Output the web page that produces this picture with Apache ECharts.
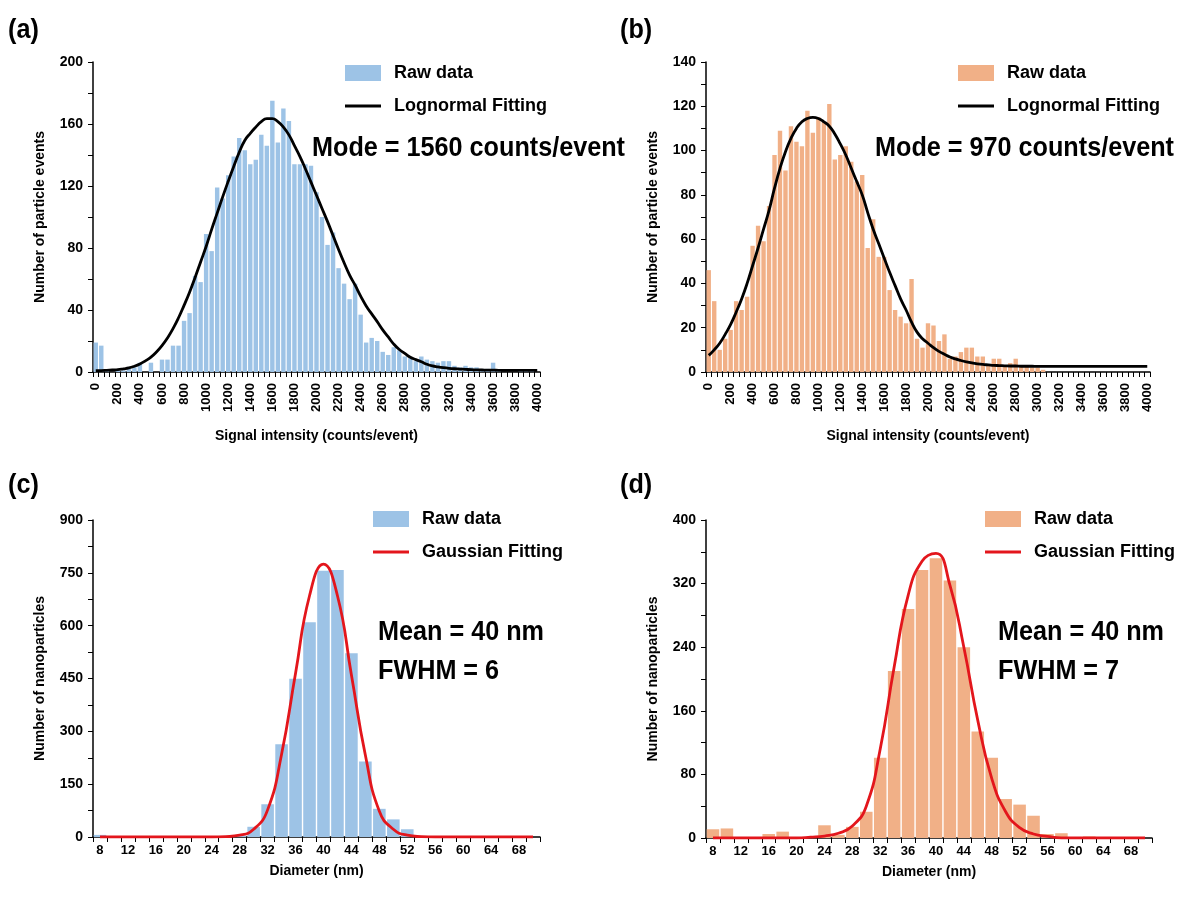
<!DOCTYPE html>
<html>
<head>
<meta charset="utf-8">
<script src="https://cdn.jsdelivr.net/npm/echarts@6/dist/echarts.min.js"></script>
<style>
html,body{margin:0;padding:0;background:#fff;}
#chart{width:1188px;height:898px;}
</style>
</head>
<body>
<div id="chart"></div>
<script>
// ---- categories / tick labels ----
const signalCats = Array.from({length: 81}, (_, i) => String(i * 50));   // 0,50,...,4000
const diamCats = Array.from({length: 32}, (_, i) => String(8 + i * 2));   // 8,10,...,70

// ---- (a) signal intensity histogram, blue ----
const aBars = [19,17,1,0,1,1,2,3,6,0, 6,0,8,8,17,17,33,38,62,58,
  89,78,119,112,127,139,151,143,134,137, 153,146,175,148,170,162,134,134,134,133,
  116,100,82,90,67,57,47,57,37,19, 22,20,13,11,16,14,10,9,7,10,
  8,7,6,7,7,4,3,4,3,3, 2,2,6,1,0,0,0,1,1,1,0];
const aFit = [0.9,0.9,1.1,1.3,1.5,2,2.6,3.7,5.2,7.2, 9.6,12.9,17,22,28,35,43,51.5,61,71,
  81,92,102.5,113,123,132.6,141.8,149.4,154,158, 161.5,163.5,163.5,161.5,158,153,146,139,131,122.5,
  114,105.5,97,88,79,70.5,62.5,56,49,42.6, 37.5,32.5,27.2,22.6,18,14.5,12,9.5,8,6.6,
  5,3.9,3.3,2.8,2.4,2.1,1.9,1.7,1.5,1.4, 1.3,1.2,1.2,1.1,1.1,1.1,1,1,1,1,1];

// ---- (b) signal intensity histogram, orange ----
const bBars = [46,32,10,15,19,32,28,34,57,66, 59,75,98,109,91,111,104,102,118,108,
  115,113,121,96,98,102,95,86,89,56, 69,52,52,37,28,25,22,42,15,11,
  22,21,14,17,6,7,9,11,11,7, 7,3,6,6,3,4,6,3,3,2,
  2,1,0,0,0,0,0,0,0,0, 0,0,0,0,0,0,0,0,0,0,0];
const bFit = [7.5,10,13,17,21.5,27,33,40,48,56, 64.5,73,83,92,99.5,105.5,110,113,114.5,115,
  114.5,113,111,107.5,103,98,92,86,80,72, 64.5,58,51.5,45,39,33,28,22.5,18,15,
  13,11,9.3,8,6.8,5.9,5.2,4.6,4.1,3.7, 3.4,3.2,3,2.9,2.8,2.7,2.7,2.6,2.6,2.6,
  2.5,2.5,2.5,2.5,2.5,2.5,2.5,2.5,2.5,2.5, 2.5,2.5,2.5,2.5,2.5,2.5,2.5,2.5,2.5,2.5,2.5];

// ---- (c) diameter histogram, blue ----
const cBars = [6,0,0,0,0,0,0,0,0,0, 4,29,93,263,449,610,756,758,522,214, 80,50,22,3,0,0,0,0,0,0,0,0];
const cFit  = [0,0,0,0,0,0,0,0,0,1, 5,22,77,235,465,685,775,685,460,232, 73,22,5,1,0,0,0,0,0,0,0,0];

// ---- (d) diameter histogram, orange ----
const dBars = [11,12,0,0,5,8,0,0,16,4, 14,33,101,210,288,337,352,324,240,134, 101,49,42,28,5,6,0,2,0,0,0,0];
const dFit  = [0,0,0,0,0,0,0,1,2.5,6, 15,40,112,215,305,348,358,318,240,148, 75,33,13,5,2,0,0,0,0,0,0,0];

// ---- texts ----
const panelLabels = ['(a)', '(b)', '(c)', '(d)'];
const notes = ['Mode = 1560 counts/event', 'Mode = 970 counts/event', 'Mean = 40 nm', 'FWHM = 6', 'Mean = 40 nm', 'FWHM = 7'];

const BLUE = '#9DC3E6', ORANGE = '#F1B087', RED = '#E3161C';
const FONT = "'Liberation Sans', Arial, sans-serif";

function xAx(grid, data, rotate, interval, margin, name, nameGap) {
  return {
    type: 'category', gridIndex: grid, data: data, boundaryGap: true,
    axisLine: {show: true, lineStyle: {color: '#000', width: 1.5}},
    axisTick: {show: true, interval: 0, length: 5, lineStyle: {color: '#000', width: 1}},
    axisLabel: {interval: interval, rotate: rotate, color: '#000', fontFamily: FONT, fontWeight: 'bold', fontSize: 13, margin: margin},
    splitLine: {show: false},
    name: name, nameLocation: 'middle', nameGap: nameGap,
    nameTextStyle: {color: '#000', fontFamily: FONT, fontWeight: 'bold', fontSize: 14}
  };
}
function yAx(grid, max, tick, labelStep, name) {
  return {
    type: 'value', gridIndex: grid, min: 0, max: max, interval: tick,
    axisLine: {show: true, lineStyle: {color: '#000', width: 1.5}},
    axisTick: {show: true, length: 5, lineStyle: {color: '#000', width: 1}},
    axisLabel: {color: '#000', fontFamily: FONT, fontWeight: 'bold', fontSize: 14, margin: 10,
      formatter: v => (Math.round(v) % labelStep === 0 ? String(v) : '')},
    splitLine: {show: false},
    name: name, nameLocation: 'middle', nameGap: 46, nameRotate: 90,
    nameTextStyle: {color: '#000', fontFamily: FONT, fontWeight: 'bold', fontSize: 14}
  };
}
function legend(left, top, color, fitName, fitColor) {
  return {
    orient: 'vertical', left: left, top: top, padding: 0, itemWidth: 36, itemHeight: 16, itemGap: 15,
    selectedMode: false,
    textStyle: {color: '#000', fontFamily: FONT, fontWeight: 'bold', fontSize: 18, lineHeight: 18, padding: [0, 0, 0, 8]},
    data: [
      {name: 'Raw data', icon: 'rect', itemStyle: {color: color}},
      {name: fitName, icon: 'path://M0,0H36V3H0Z', itemStyle: {color: fitColor}}
    ]
  };
}
function txt(x, y, s, size) {
  return {type: 'text', x: x, y: y, scaleX: 0.9, z: 100,
    style: {text: s, x: 0, y: 0, fill: '#000', fontFamily: FONT, fontWeight: 'bold', fontSize: size, textVerticalAlign: 'middle', textAlign: 'left'}};
}

const chart = echarts.init(document.getElementById('chart'), null, {renderer: 'canvas'});
chart.setOption({
  backgroundColor: '#fff',
  animation: false,
  grid: [
    {left: 93, top: 62, width: 447, height: 310},
    {left: 706, top: 62, width: 444, height: 310},
    {left: 93, top: 520, width: 447, height: 317},
    {left: 706, top: 520, width: 446, height: 318}
  ],
  xAxis: [
    xAx(0, signalCats, 90, 3, 11, 'Signal intensity (counts/event)', 57),
    xAx(1, signalCats, 90, 3, 11, 'Signal intensity (counts/event)', 57),
    xAx(2, diamCats, 0, 1, 7, 'Diameter (nm)', 27),
    xAx(3, diamCats, 0, 1, 7, 'Diameter (nm)', 27)
  ],
  yAxis: [
    yAx(0, 200, 20, 40, 'Number of particle events'),
    yAx(1, 140, 10, 20, 'Number of particle events'),
    yAx(2, 900, 75, 150, 'Number of nanoparticles'),
    yAx(3, 400, 40, 80, 'Number of nanoparticles')
  ],
  legend: [
    legend(345, 64, BLUE, 'Lognormal Fitting', '#000'),
    legend(958, 64, ORANGE, 'Lognormal Fitting', '#000'),
    legend(373, 510, BLUE, 'Gaussian Fitting', RED),
    legend(985, 510, ORANGE, 'Gaussian Fitting', RED)
  ],
  series: [
    {type: 'bar', name: 'Raw data', xAxisIndex: 0, yAxisIndex: 0, data: aBars, barCategoryGap: '20%', itemStyle: {color: BLUE}},
    {type: 'line', name: 'Lognormal Fitting', xAxisIndex: 0, yAxisIndex: 0, data: aFit, smooth: true, symbol: 'none', lineStyle: {color: '#000', width: 2.8}, itemStyle: {color: '#000'}, z: 5},
    {type: 'bar', name: 'Raw data', xAxisIndex: 1, yAxisIndex: 1, data: bBars, barCategoryGap: '20%', itemStyle: {color: ORANGE}},
    {type: 'line', name: 'Lognormal Fitting', xAxisIndex: 1, yAxisIndex: 1, data: bFit, smooth: true, symbol: 'none', lineStyle: {color: '#000', width: 2.8}, itemStyle: {color: '#000'}, z: 5},
    {type: 'bar', name: 'Raw data', xAxisIndex: 2, yAxisIndex: 2, data: cBars, barCategoryGap: '10%', itemStyle: {color: BLUE}},
    {type: 'line', name: 'Gaussian Fitting', xAxisIndex: 2, yAxisIndex: 2, data: cFit, smooth: true, symbol: 'none', lineStyle: {color: RED, width: 2.8}, itemStyle: {color: RED}, z: 5},
    {type: 'bar', name: 'Raw data', xAxisIndex: 3, yAxisIndex: 3, data: dBars, barCategoryGap: '10%', itemStyle: {color: ORANGE}},
    {type: 'line', name: 'Gaussian Fitting', xAxisIndex: 3, yAxisIndex: 3, data: dFit, smooth: true, symbol: 'none', lineStyle: {color: RED, width: 2.8}, itemStyle: {color: RED}, z: 5}
  ],
  graphic: [
    txt(8, 30, panelLabels[0], 28),
    txt(620, 30, panelLabels[1], 28),
    txt(8, 485, panelLabels[2], 28),
    txt(620, 485, panelLabels[3], 28),
    txt(312, 148, notes[0], 28),
    txt(875, 148, notes[1], 28),
    txt(378, 632, notes[2], 28),
    txt(378, 671, notes[3], 28),
    txt(998, 632, notes[4], 28),
    txt(998, 671, notes[5], 28)
  ]
});
</script>
</body>
</html>
